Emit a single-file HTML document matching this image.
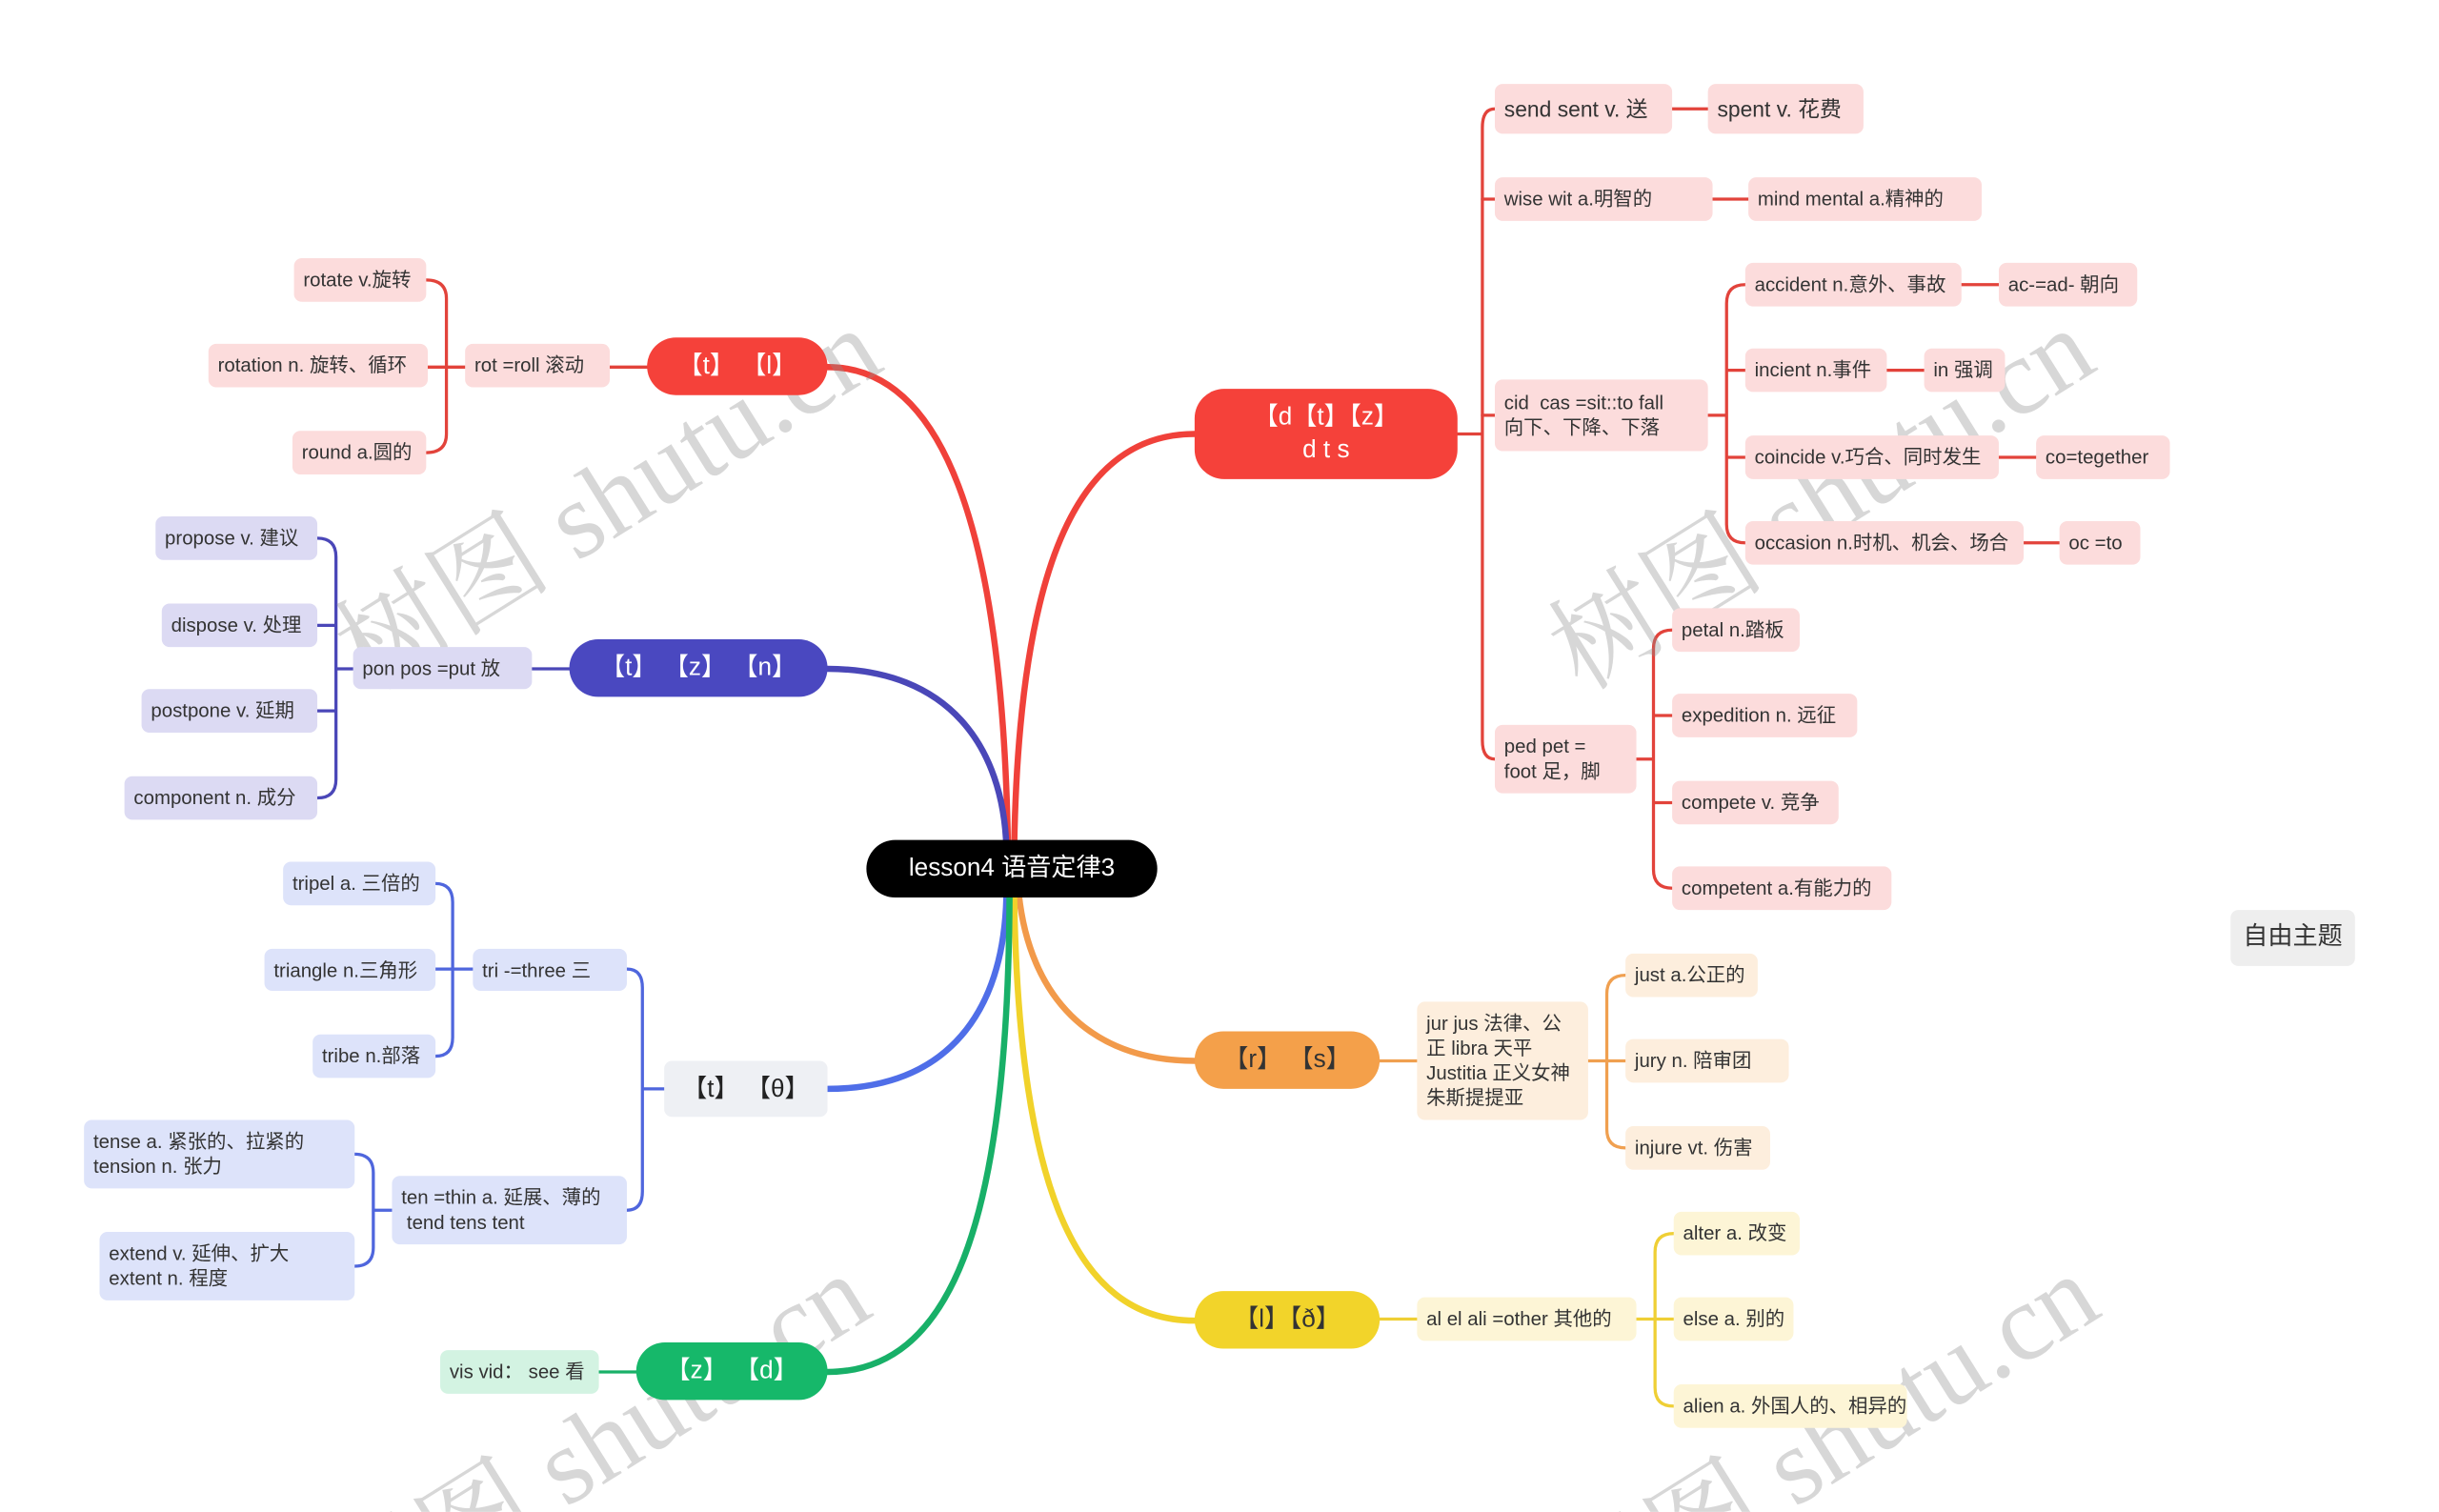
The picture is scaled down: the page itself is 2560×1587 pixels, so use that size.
<!DOCTYPE html>
<html><head><meta charset="utf-8"><style>
html,body{margin:0;padding:0;background:#fff;}
body{width:2560px;height:1587px;overflow:hidden;position:relative;}
#s{position:absolute;left:0;top:0;width:1568px;height:972px;transform:scale(1.63265);transform-origin:0 0;font-family:"Liberation Sans","Noto Sans CJK SC",sans-serif;overflow:hidden;}
.n{position:absolute;box-sizing:border-box;border-radius:5px;font-size:12.5px;color:#333;display:flex;align-items:center;padding-left:6px;line-height:16px;white-space:nowrap;}
.m{position:absolute;box-sizing:border-box;border-radius:19px;font-size:16px;color:#fff;display:flex;align-items:center;justify-content:center;text-align:center;line-height:21px;white-space:nowrap;}
.r{background:#fcdcdc}.o{background:#fdeedd}.y{background:#fdf5d6}.i{background:#dcdaf3}.b{background:#dde3fa}.g{background:#d3f3e2}
svg{position:absolute;left:0;top:0;overflow:hidden;}
</style></head><body><div id="s">
<svg width="1568" height="972" fill="none" stroke-linecap="round">
<g stroke-width="4">
<path d="M652,545 C655,370 690,279 768,279" stroke="#f0413a"/>
<path d="M655,575 C662,640 700,682 768,682" stroke="#f29a4a"/>
<path d="M652,577 C655,760 690,849 768,849" stroke="#f1d22a"/>
<path d="M648,545 C645,350 610,236 532,236" stroke="#f0413a"/>
<path d="M647,545 C645,480 610,430 532,430" stroke="#4a47b8"/>
<path d="M647,577 C645,650 610,700 532,700" stroke="#4f6ee8"/>
<path d="M649,577 C648,790 610,882 532,882" stroke="#18b068"/>
</g>
<g stroke-width="2" stroke="#e2433b">
<path d="M937,279 H953"/>
<path d="M961,70 Q953,70 953,82 V476 Q953,488 961,488"/>
<path d="M953,128 H961 M953,267 H961"/>
<path d="M1075,70 H1098 M1101,128 H1124 M1261,183 H1285 M1213,238 H1237 M1285,294 H1309 M1301,349 H1324"/>
<path d="M1098,267 H1110 M1122,183 Q1110,183 1110,195 V337 Q1110,349 1122,349 M1110,238 H1122 M1110,294 H1122"/>
<path d="M1052,488 H1063 M1075,405 Q1063,405 1063,417 V559 Q1063,571 1075,571 M1063,460 H1075 M1063,516 H1075"/>
<path d="M416,236 H392 M299,236 H287 M274,180 Q287,180 287,192 V279 Q287,291 274,291 M287,236 H275"/>
</g>
<g stroke-width="2" stroke="#f0a050"><path d="M887,682 H911 M1021,682 H1033 M1045,627 Q1033,627 1033,639 V726 Q1033,738 1045,738 M1033,682 H1045"/></g>
<g stroke-width="2" stroke="#efcf35"><path d="M887,848 H911 M1052,848 H1064 M1076,793 Q1064,793 1064,805 V892 Q1064,904 1076,904 M1064,848 H1076"/></g>
<g stroke-width="2" stroke="#4a47b8"><path d="M366,430 H342 M227,430 H216 M204,346 Q216,346 216,358 V501 Q216,513 204,513 M216,402 H204 M216,457 H204"/></g>
<g stroke-width="2" stroke="#4f66dd"><path d="M427,700 H413 M403,623 Q413,623 413,635 V766 Q413,778 403,778 M304,623 H291 M280,568 Q291,568 291,580 V667 Q291,679 280,679 M291,623 H280 M252,778 H240 M228,742 Q240,742 240,754 V802 Q240,814 228,814"/></g>
<g stroke-width="2" stroke="#18b068"><path d="M409,882 H385"/></g>
<g font-family="Liberation Serif, Noto Serif CJK SC, serif" font-size="70" fill="rgba(140,140,140,0.35)" stroke="none">
<text transform="translate(237,445) rotate(-32)">树图 shutu.cn</text>
<text transform="translate(1017,445) rotate(-32)">树图 shutu.cn</text>
<text transform="translate(230,1053) rotate(-32)">树图 shutu.cn</text>
<text transform="translate(1020,1053) rotate(-32)">树图 shutu.cn</text>
</g>
</svg>

<div class="m" style="left:557px;top:540px;width:187px;height:37px;background:#000;">lesson4 语音定律3</div>
<div class="m" style="left:768px;top:250px;width:169px;height:58px;background:#f5413a;">【d【t】【z】<br>d t s</div>
<div class="m" style="left:768px;top:663px;width:119px;height:37px;background:#f4a04a;color:#333;">【r】 【s】</div>
<div class="m" style="left:768px;top:830px;width:119px;height:37px;background:#f2d42a;color:#333;">【l】【ð】</div>
<div class="m" style="left:416px;top:217px;width:116px;height:37px;background:#f5413a;">【t】 【l】</div>
<div class="m" style="left:366px;top:411px;width:166px;height:37px;background:#4a48c0;">【t】 【z】 【n】</div>
<div class="m" style="left:427px;top:682px;width:105px;height:36px;background:#eef0f4;color:#222;border-radius:5px;">【t】 【θ】</div>
<div class="m" style="left:409px;top:863px;width:123px;height:37px;background:#16b86a;">【z】 【d】</div>
<div class="n" style="left:1434px;top:585px;width:80px;height:36px;background:#eeeeee;font-size:16px;padding-left:8px;">自由主题</div>

<div class="n r" style="left:961px;top:54px;width:114px;height:32px;font-size:14px">send sent v. 送</div>
<div class="n r" style="left:1098px;top:54px;width:100px;height:32px;font-size:14px">spent v. 花费</div>
<div class="n r" style="left:961px;top:114px;width:140px;height:28px">wise wit a.明智的</div>
<div class="n r" style="left:1124px;top:114px;width:150px;height:28px">mind mental a.精神的</div>
<div class="n r" style="left:961px;top:244px;width:137px;height:46px">cid&nbsp; cas =sit::to fall<br>向下、下降、下落</div>
<div class="n r" style="left:1122px;top:169px;width:139px;height:28px">accident n.意外、事故</div>
<div class="n r" style="left:1285px;top:169px;width:89px;height:28px">ac-=ad- 朝向</div>
<div class="n r" style="left:1122px;top:224px;width:91px;height:28px">incient n.事件</div>
<div class="n r" style="left:1237px;top:224px;width:52px;height:28px">in 强调</div>
<div class="n r" style="left:1122px;top:280px;width:163px;height:28px">coincide v.巧合、同时发生</div>
<div class="n r" style="left:1309px;top:280px;width:86px;height:28px">co=tegether</div>
<div class="n r" style="left:1122px;top:335px;width:179px;height:28px">occasion n.时机、机会、场合</div>
<div class="n r" style="left:1324px;top:335px;width:52px;height:28px">oc =to</div>
<div class="n r" style="left:961px;top:466px;width:91px;height:44px">ped pet =<br>foot 足，脚</div>
<div class="n r" style="left:1075px;top:391px;width:82px;height:28px">petal n.踏板</div>
<div class="n r" style="left:1075px;top:446px;width:119px;height:28px">expedition n. 远征</div>
<div class="n r" style="left:1075px;top:502px;width:107px;height:28px">compete v. 竞争</div>
<div class="n r" style="left:1075px;top:557px;width:141px;height:28px">competent a.有能力的</div>

<div class="n o" style="left:911px;top:644px;width:110px;height:76px">jur jus 法律、公<br>正 libra 天平<br>Justitia 正义女神<br>朱斯提提亚</div>
<div class="n o" style="left:1045px;top:613px;width:85px;height:28px">just a.公正的</div>
<div class="n o" style="left:1045px;top:668px;width:105px;height:28px">jury n. 陪审团</div>
<div class="n o" style="left:1045px;top:724px;width:93px;height:28px">injure vt. 伤害</div>
<div class="n y" style="left:911px;top:834px;width:141px;height:28px">al el ali =other 其他的</div>
<div class="n y" style="left:1076px;top:779px;width:81px;height:28px">alter a. 改变</div>
<div class="n y" style="left:1076px;top:834px;width:77px;height:28px">else a. 别的</div>
<div class="n y" style="left:1076px;top:890px;width:150px;height:28px">alien a. 外国人的、相异的</div>

<div class="n r" style="left:299px;top:221px;width:93px;height:28px">rot =roll 滚动</div>
<div class="n r" style="left:189px;top:166px;width:85px;height:28px">rotate v.旋转</div>
<div class="n r" style="left:134px;top:221px;width:141px;height:28px">rotation n. 旋转、循环</div>
<div class="n r" style="left:188px;top:277px;width:86px;height:28px">round a.圆的</div>

<div class="n i" style="left:227px;top:416px;width:115px;height:27px">pon pos =put 放</div>
<div class="n i" style="left:100px;top:332px;width:104px;height:28px">propose v. 建议</div>
<div class="n i" style="left:104px;top:388px;width:100px;height:28px">dispose v. 处理</div>
<div class="n i" style="left:91px;top:443px;width:113px;height:28px">postpone v. 延期</div>
<div class="n i" style="left:80px;top:499px;width:124px;height:28px">component n. 成分</div>

<div class="n b" style="left:304px;top:610px;width:99px;height:27px">tri -=three 三</div>
<div class="n b" style="left:182px;top:554px;width:98px;height:28px">tripel a. 三倍的</div>
<div class="n b" style="left:170px;top:610px;width:110px;height:27px">triangle n.三角形</div>
<div class="n b" style="left:201px;top:665px;width:79px;height:28px">tribe n.部落</div>
<div class="n b" style="left:252px;top:756px;width:151px;height:44px">ten =thin a. 延展、薄的<br>&nbsp;tend tens tent</div>
<div class="n b" style="left:54px;top:720px;width:174px;height:44px">tense a. 紧张的、拉紧的<br>tension n. 张力</div>
<div class="n b" style="left:64px;top:792px;width:164px;height:44px">extend v. 延伸、扩大<br>extent n. 程度</div>

<div class="n g" style="left:283px;top:868px;width:102px;height:28px">vis vid： see 看</div>
</div></body></html>
